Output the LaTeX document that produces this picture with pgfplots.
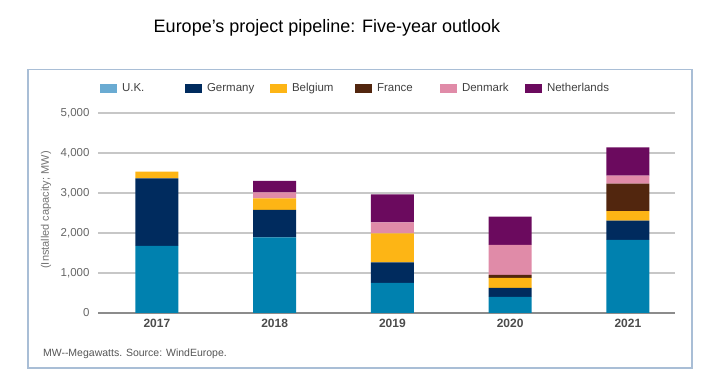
\documentclass[border=0pt]{standalone}
\usepackage{pgfplots}
\pgfplotsset{compat=1.18}
\usepackage{fontspec}
\setmainfont{Liberation Sans}
\definecolor{cuk}{HTML}{0081AF}
\definecolor{cuklight}{HTML}{6AABD2}
\definecolor{cde}{HTML}{002B5E}
\definecolor{cbe}{HTML}{FDB515}
\definecolor{cfr}{HTML}{52260E}
\definecolor{cdk}{HTML}{E08BA8}
\definecolor{cnl}{HTML}{6B0A5E}
\definecolor{frame}{HTML}{A9BED6}
\definecolor{txt}{HTML}{555555}
\begin{document}
\begin{tikzpicture}[x=1pt,y=1pt]
\useasboundingbox (0,0) rectangle (714,387);
\draw[frame, line width=1.2pt] (28,19) rectangle (692,317.5);
\node[font=\fontsize{18}{21}\selectfont, text=black] at (327,359) {Europe’s project pipeline: Five-year outlook};
\node[anchor=west, font=\fontsize{10.5}{12}\selectfont, text=txt] at (39.5,33) {MW{-}{-}Megawatts. Source: WindEurope.};
\begin{axis}[
  at={(98pt,74pt)}, anchor=south west,
  scale only axis, width=577pt, height=200pt,
  ybar stacked, bar width=43pt,
  xmin=-0.5, xmax=4.4, ymin=0, ymax=5000,
  xtick={0,1,2,3,4}, xticklabels={2017,2018,2019,2020,2021},
  ytick={1000,2000,3000,4000,5000},
  extra y ticks={0},
  extra y tick style={grid style={color=black!45, line width=1.3pt}},
  ymajorgrids, grid style={color=black!22, line width=1.2pt},
  axis line style={draw=none},
  major tick length=0pt,
  /pgf/number format/assume math mode=true,
  /pgf/number format/1000 sep={,},
  yticklabel style={font=\fontsize{11.5}{13}\selectfont, text=black!60, anchor=east, xshift=-5pt},
  xticklabel style={font=\fontsize{12}{14}\selectfont\bfseries, text=black!70, yshift=-3pt},
  ylabel={(Installed capacity; MW)},
  ylabel style={font=\fontsize{11}{13}\selectfont, text=black!55, at={(axis description cs:-0.090,0.515)}, anchor=center},
  legend columns=6,
  legend style={at={(axis description cs:0.0035,1.1225)}, anchor=west, draw=none, fill=none, inner sep=0pt, outer sep=0pt,
     font=\fontsize{11.5}{13}\selectfont, text=black!75,
     /tikz/every even column/.append style={column sep=0pt},
     /tikz/every odd column/.append style={column sep=0pt}},
  legend image code/.code={\fill[#1] (0pt,-4.6pt) rectangle (17pt,4.6pt);},
]
\addplot[fill=cuk, draw=none, forget plot] coordinates {(0,1675) (1,1890) (2,750) (3,400) (4,1825)};
\addplot[fill=cde, draw=none, forget plot] coordinates {(0,1690) (1,685) (2,515) (3,225) (4,485)};
\addplot[fill=cbe, draw=none, forget plot] coordinates {(0,170) (1,290) (2,725) (3,250) (4,235)};
\addplot[fill=cfr, draw=none, forget plot] coordinates {(0,0) (1,0) (2,0) (3,80) (4,690)};
\addplot[fill=cdk, draw=none, forget plot] coordinates {(0,0) (1,150) (2,275) (3,750) (4,200)};
\addplot[fill=cnl, draw=none, forget plot] coordinates {(0,0) (1,290) (2,700) (3,705) (4,705)};
\addlegendimage{fill=cuklight, draw=none}
\addlegendentry{\makebox[64pt][l]{\hspace{3pt}U.K.}}
\addlegendimage{fill=cde, draw=none}
\addlegendentry{\makebox[64pt][l]{\hspace{3pt}Germany}}
\addlegendimage{fill=cbe, draw=none}
\addlegendentry{\makebox[64pt][l]{\hspace{3pt}Belgium}}
\addlegendimage{fill=cfr, draw=none}
\addlegendentry{\makebox[64pt][l]{\hspace{3pt}France}}
\addlegendimage{fill=cdk, draw=none}
\addlegendentry{\makebox[64pt][l]{\hspace{3pt}Denmark}}
\addlegendimage{fill=cnl, draw=none}
\addlegendentry{\makebox[64pt][l]{\hspace{3pt}Netherlands}}
\end{axis}
\end{tikzpicture}
\end{document}
